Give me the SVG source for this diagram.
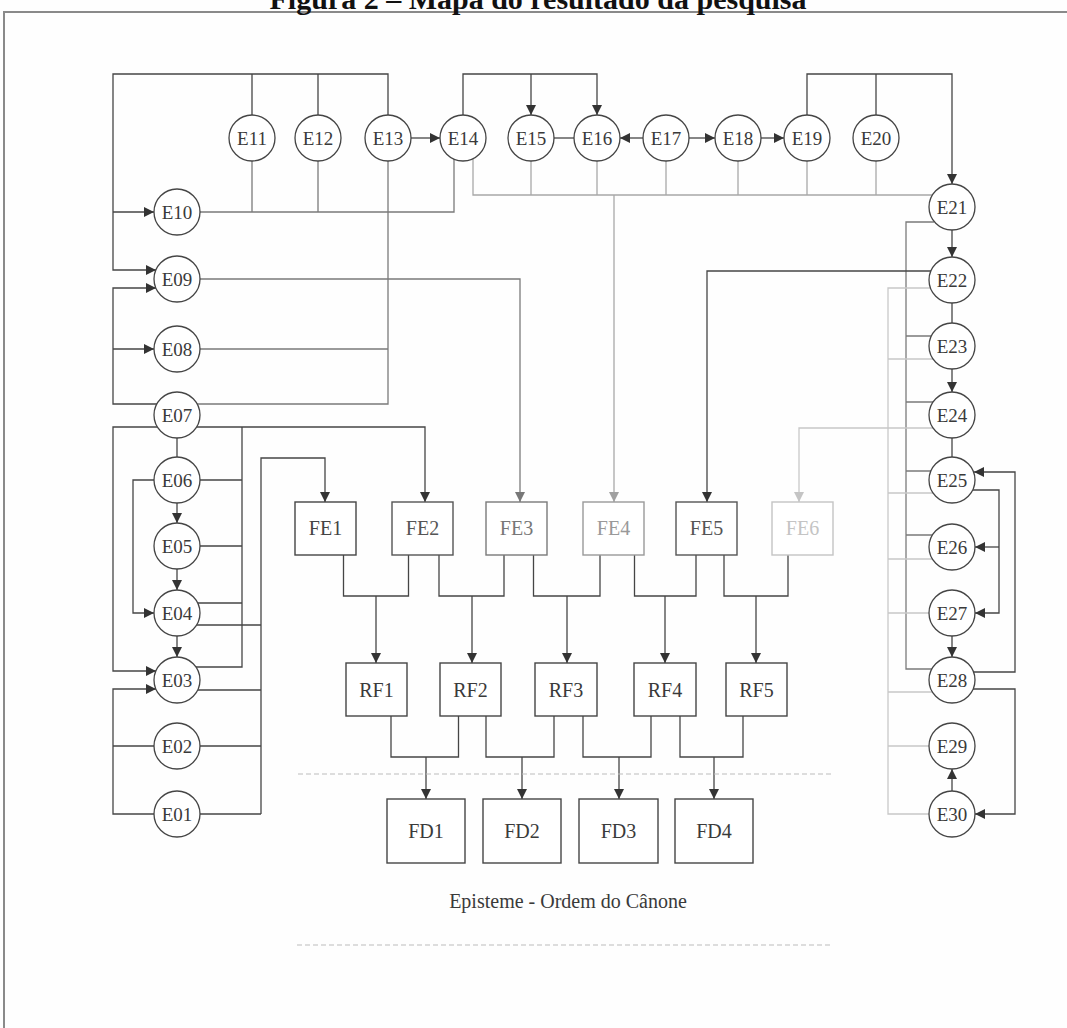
<svg xmlns="http://www.w3.org/2000/svg" width="1067" height="1028" viewBox="0 0 1067 1028">
<style>
.c line,.c path{fill:none;stroke-width:1.3}
.d{stroke:#454545}.m{stroke:#7a7a7a}.l{stroke:#a8a8a8}.xl{stroke:#c8c8c8}
.n circle{fill:#fff;stroke:#454545;stroke-width:1.3}
.n rect{fill:#fff;stroke-width:1.4}
.t{font-family:"Liberation Serif","Times New Roman",serif;fill:#3a3a3a;text-anchor:middle}
.e{font-size:19px}.b{font-size:20px}
.dash{stroke:#bbb;stroke-width:1.2;stroke-dasharray:5 3;fill:none}
</style>
<defs>
<marker id="ad" viewBox="0 0 10 10" refX="10" refY="5" markerWidth="11" markerHeight="10" markerUnits="userSpaceOnUse" orient="auto"><path d="M0,0L10,5L0,10z" fill="#333"/></marker>
<marker id="am" viewBox="0 0 10 10" refX="10" refY="5" markerWidth="11" markerHeight="10" markerUnits="userSpaceOnUse" orient="auto"><path d="M0,0L10,5L0,10z" fill="#777"/></marker>
<marker id="al" viewBox="0 0 10 10" refX="10" refY="5" markerWidth="11" markerHeight="10" markerUnits="userSpaceOnUse" orient="auto"><path d="M0,0L10,5L0,10z" fill="#a0a0a0"/></marker>
<marker id="ax" viewBox="0 0 10 10" refX="10" refY="5" markerWidth="11" markerHeight="10" markerUnits="userSpaceOnUse" orient="auto"><path d="M0,0L10,5L0,10z" fill="#c4c4c4"/></marker>
</defs>
<rect width="1067" height="1028" fill="#fefefe"/>
<path d="M4,1028V12H1067" fill="none" stroke="#8a8a8a" stroke-width="2"/>
<text x="538" y="9" style="font-family:'Liberation Serif','Times New Roman',serif;font-size:30px;font-weight:bold;fill:#111" text-anchor="middle">Figura 2 – Mapa do resultado da pesquisa</text>

<g id="connectors" class="c">
<path class="d" d="M388,115V74H113V270H156" marker-end="url(#ad)"/>
<path class="d" d="M252,115V74M318,115V74"/>
<path class="d" d="M113,212H154" marker-end="url(#ad)"/>
<path class="d" d="M411,138H440" marker-end="url(#ad)"/>
<path class="m" d="M200,212H454V159M252,161V212M318,161V212"/>
<path class="m" d="M388,161V404H197M200,349H388"/>
<path class="d" d="M157,404H113V288H156" marker-end="url(#ad)"/>
<path class="d" d="M113,349H154" marker-end="url(#ad)"/>
<path class="m" d="M200,279H520V502" marker-end="url(#am)"/>
<path class="d" d="M157,427H113V671H156" marker-end="url(#ad)"/>
<path class="d" d="M197,427H425V502" marker-end="url(#ad)"/>
<path class="d" d="M242,427V667H196M200,480H242M200,546H242M198,603H242"/>
<path class="d" d="M177,438V457"/>
<path class="d" d="M177,503V523" marker-end="url(#ad)"/>
<path class="d" d="M177,569V590" marker-end="url(#ad)"/>
<path class="d" d="M177,636V657" marker-end="url(#ad)"/>
<path class="d" d="M154,480H133V613H154" marker-end="url(#ad)"/>
<path class="d" d="M261,814V458H325V502" marker-end="url(#ad)"/>
<path class="d" d="M197,625H261M198,690H261M200,746H261M200,814H261"/>
<path class="d" d="M154,814H113V689H156" marker-end="url(#ad)"/>
<path class="d" d="M113,746H154"/>
<path class="d" d="M463,115V74H597V115" marker-end="url(#ad)"/>
<path class="d" d="M531,74V115" marker-end="url(#ad)"/>
<path class="d" d="M554,138H574"/>
<path class="d" d="M643,138H620" marker-end="url(#ad)"/>
<path class="d" d="M689,138H715" marker-end="url(#ad)"/>
<path class="d" d="M761,138H784" marker-end="url(#ad)"/>
<path class="d" d="M807,115V74H952V184" marker-end="url(#ad)"/>
<path class="d" d="M876,115V74"/>
<path class="l" d="M473,159V195H932M531,161V195M597,161V195M666,161V195M738,161V195M807,161V195M876,161V195"/>
<path class="l" d="M614,195V502" marker-end="url(#al)"/>
<path class="d" d="M952,230V257" marker-end="url(#ad)"/>
<path class="d" d="M952,303V323"/>
<path class="d" d="M952,369V392" marker-end="url(#ad)"/>
<path class="d" d="M952,438V457"/>
<path class="d" d="M952,636V657" marker-end="url(#ad)"/>
<path class="d" d="M952,791V769" marker-end="url(#ad)"/>
<path class="m" d="M934,222H906V669H932M906,336H931M906,402H933M906,471H931M906,535H932"/>
<path class="xl" d="M930,288H888V814H929M888,359H933M888,493H933M888,559H932M888,613H929M888,692H932M888,746H929"/>
<path class="d" d="M931,271H707V502" marker-end="url(#ad)"/>
<path class="xl" d="M933,428H799V502" marker-end="url(#ax)"/>
<path class="d" d="M973,490H999V613H975" marker-end="url(#ad)"/>
<path class="d" d="M999,547H975" marker-end="url(#ad)"/>
<path class="d" d="M974,672H1015V472H974" marker-end="url(#ad)"/>
<path class="d" d="M973,689H1015V814H975" marker-end="url(#ad)"/>
<path class="d" d="M343.5,555V596H408.5V555M439,555V596H504V555M533.5,555V596H600V555M634.5,555V596H696V555M724,555V596H788V555"/>
<path class="d" d="M376,596V663" marker-end="url(#ad)"/>
<path class="d" d="M472,596V663" marker-end="url(#ad)"/>
<path class="d" d="M567,596V663" marker-end="url(#ad)"/>
<path class="d" d="M665,596V663" marker-end="url(#ad)"/>
<path class="d" d="M756,596V663" marker-end="url(#ad)"/>
<path class="d" d="M391,716V757H458.5V716M486,716V757H554V716M583,716V757H651V716M680,716V757H743V716"/>
<path class="d" d="M426,757V799" marker-end="url(#ad)"/>
<path class="d" d="M522,757V799" marker-end="url(#ad)"/>
<path class="d" d="M619,757V799" marker-end="url(#ad)"/>
<path class="d" d="M714,757V799" marker-end="url(#ad)"/>
</g>

<line class="dash" x1="298" y1="774" x2="832" y2="774"/>
<line class="dash" x1="297" y1="945" x2="831" y2="945"/>

<g id="E11" class="n"><circle cx="252" cy="138" r="23"/><text class="t e" x="252" y="144.5">E11</text></g>
<g id="E12" class="n"><circle cx="318" cy="138" r="23"/><text class="t e" x="318" y="144.5">E12</text></g>
<g id="E13" class="n"><circle cx="388" cy="138" r="23"/><text class="t e" x="388" y="144.5">E13</text></g>
<g id="E14" class="n"><circle cx="463" cy="138" r="23"/><text class="t e" x="463" y="144.5">E14</text></g>
<g id="E15" class="n"><circle cx="531" cy="138" r="23"/><text class="t e" x="531" y="144.5">E15</text></g>
<g id="E16" class="n"><circle cx="597" cy="138" r="23"/><text class="t e" x="597" y="144.5">E16</text></g>
<g id="E17" class="n"><circle cx="666" cy="138" r="23"/><text class="t e" x="666" y="144.5">E17</text></g>
<g id="E18" class="n"><circle cx="738" cy="138" r="23"/><text class="t e" x="738" y="144.5">E18</text></g>
<g id="E19" class="n"><circle cx="807" cy="138" r="23"/><text class="t e" x="807" y="144.5">E19</text></g>
<g id="E20" class="n"><circle cx="876" cy="138" r="23"/><text class="t e" x="876" y="144.5">E20</text></g>

<g id="E10" class="n"><circle cx="177" cy="212" r="23"/><text class="t e" x="177" y="218.5">E10</text></g>
<g id="E09" class="n"><circle cx="177" cy="279" r="23"/><text class="t e" x="177" y="285.5">E09</text></g>
<g id="E08" class="n"><circle cx="177" cy="349" r="23"/><text class="t e" x="177" y="355.5">E08</text></g>
<g id="E07" class="n"><circle cx="177" cy="415" r="23"/><text class="t e" x="177" y="421.5">E07</text></g>
<g id="E06" class="n"><circle cx="177" cy="480" r="23"/><text class="t e" x="177" y="486.5">E06</text></g>
<g id="E05" class="n"><circle cx="177" cy="546" r="23"/><text class="t e" x="177" y="552.5">E05</text></g>
<g id="E04" class="n"><circle cx="177" cy="613" r="23"/><text class="t e" x="177" y="619.5">E04</text></g>
<g id="E03" class="n"><circle cx="177" cy="680" r="23"/><text class="t e" x="177" y="686.5">E03</text></g>
<g id="E02" class="n"><circle cx="177" cy="746" r="23"/><text class="t e" x="177" y="752.5">E02</text></g>
<g id="E01" class="n"><circle cx="177" cy="814" r="23"/><text class="t e" x="177" y="820.5">E01</text></g>

<g id="E21" class="n"><circle cx="952" cy="207" r="23"/><text class="t e" x="952" y="213.5">E21</text></g>
<g id="E22" class="n"><circle cx="952" cy="280" r="23"/><text class="t e" x="952" y="286.5">E22</text></g>
<g id="E23" class="n"><circle cx="952" cy="346" r="23"/><text class="t e" x="952" y="352.5">E23</text></g>
<g id="E24" class="n"><circle cx="952" cy="415" r="23"/><text class="t e" x="952" y="421.5">E24</text></g>
<g id="E25" class="n"><circle cx="952" cy="480" r="23"/><text class="t e" x="952" y="486.5">E25</text></g>
<g id="E26" class="n"><circle cx="952" cy="547" r="23"/><text class="t e" x="952" y="553.5">E26</text></g>
<g id="E27" class="n"><circle cx="952" cy="613" r="23"/><text class="t e" x="952" y="619.5">E27</text></g>
<g id="E28" class="n"><circle cx="952" cy="680" r="23"/><text class="t e" x="952" y="686.5">E28</text></g>
<g id="E29" class="n"><circle cx="952" cy="746" r="23"/><text class="t e" x="952" y="752.5">E29</text></g>
<g id="E30" class="n"><circle cx="952" cy="814" r="23"/><text class="t e" x="952" y="820.5">E30</text></g>

<g id="FE1" class="n"><rect x="295" y="502" width="61" height="53" stroke="#454545"/><text class="t b" x="325.5" y="535" style="fill:#444">FE1</text></g>
<g id="FE2" class="n"><rect x="392" y="502" width="61" height="53" stroke="#555"/><text class="t b" x="422.5" y="535" style="fill:#555">FE2</text></g>
<g id="FE3" class="n"><rect x="486" y="502" width="61" height="53" stroke="#7a7a7a"/><text class="t b" x="516.5" y="535" style="fill:#777">FE3</text></g>
<g id="FE4" class="n"><rect x="583" y="502" width="61" height="53" stroke="#999"/><text class="t b" x="613.5" y="535" style="fill:#999">FE4</text></g>
<g id="FE5" class="n"><rect x="676" y="502" width="61" height="53" stroke="#555"/><text class="t b" x="706.5" y="535" style="fill:#555">FE5</text></g>
<g id="FE6" class="n"><rect x="772" y="502" width="61" height="53" stroke="#c4c4c4"/><text class="t b" x="802.5" y="535" style="fill:#c4c4c4">FE6</text></g>

<g id="RF1" class="n"><rect x="346" y="663" width="61" height="53" stroke="#454545"/><text class="t b" x="376.5" y="696.5">RF1</text></g>
<g id="RF2" class="n"><rect x="440" y="663" width="61" height="53" stroke="#454545"/><text class="t b" x="470.5" y="696.5">RF2</text></g>
<g id="RF3" class="n"><rect x="535" y="663" width="62" height="53" stroke="#454545"/><text class="t b" x="566" y="696.5">RF3</text></g>
<g id="RF4" class="n"><rect x="634" y="663" width="62" height="53" stroke="#454545"/><text class="t b" x="665" y="696.5">RF4</text></g>
<g id="RF5" class="n"><rect x="726" y="663" width="61" height="53" stroke="#454545"/><text class="t b" x="756.5" y="696.5">RF5</text></g>

<g id="FD1" class="n"><rect x="387" y="799" width="78" height="64" stroke="#454545"/><text class="t b" x="426" y="838">FD1</text></g>
<g id="FD2" class="n"><rect x="483" y="799" width="78" height="64" stroke="#454545"/><text class="t b" x="522" y="838">FD2</text></g>
<g id="FD3" class="n"><rect x="579" y="799" width="79" height="64" stroke="#454545"/><text class="t b" x="618.5" y="838">FD3</text></g>
<g id="FD4" class="n"><rect x="675" y="799" width="78" height="64" stroke="#454545"/><text class="t b" x="714" y="838">FD4</text></g>

<text class="t" x="568" y="908" style="font-size:20px">Episteme - Ordem do Cânone</text>
</svg>
